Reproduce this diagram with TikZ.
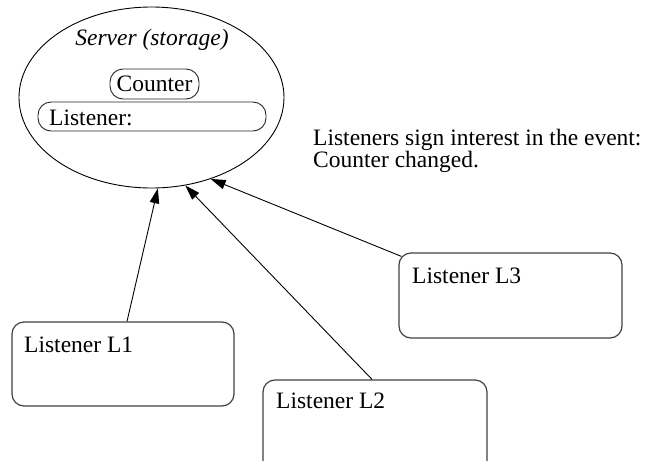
\documentclass[tikz,border=0pt]{standalone}
\usepackage{fontspec}
\setmainfont{Liberation Serif}
\usetikzlibrary{arrows.meta,shapes.geometric}

\begin{document}
\begin{tikzpicture}[x=1pt,y=-1pt,
  txt/.style={font=\fontsize{23.5}{22}\selectfont,inner sep=0pt},
  pill/.style={draw=black!85,line width=0.9pt,rounded corners=13pt,inner sep=0pt},
  listenerbox/.style={draw=black!75,line width=1.2pt,rounded corners=12pt,inner sep=0pt},
  signal/.style={line width=0.9pt,-{Triangle[length=15pt,width=9.5pt]}}]

\useasboundingbox (0,0) rectangle (646,461);

% server with its stored items
\node[draw,ellipse,line width=0.9pt,minimum width=265pt,minimum height=181pt,inner sep=0pt]
  (server) at (151.5,97.5) {};
\node[txt,anchor=base,font=\fontsize{23.5}{22}\selectfont\itshape] (servertitle) at (152,45) {Server (storage)};
\node[txt,pill,minimum width=89pt,minimum height=30pt] (counter) at (154.5,84) {Counter};
\node[pill,minimum width=228pt,minimum height=29pt] (listenerslot) at (152,116.5) {};
\node[txt,anchor=base west] (listenerlabel) at (49,125) {Listener:};

% note
\node[txt,anchor=north west,align=left] (note) at (313,129)
  {Listeners sign interest in the event:\\Counter changed.};

% listeners
\node[listenerbox,minimum width=222pt,minimum height=84pt] (l1) at (123,364) {};
\node[listenerbox,minimum width=224pt,minimum height=100pt] (l2) at (375,430) {};
\node[listenerbox,minimum width=223pt,minimum height=85pt] (l3) at (510.5,295.5) {};
\node[txt,anchor=base west] (l1text) at (24,352) {Listener L1};
\node[txt,anchor=base west] (l2text) at (276,408) {Listener L2};
\node[txt,anchor=base west] (l3text) at (412,283) {Listener L3};

% subscriptions
\draw[signal] ([xshift=4pt]l1.north) -- (server.-86.6);
\draw[signal] ([xshift=-3pt]l2.north) -- (server.-69);
\draw[signal] ([shift={(3pt,-4pt)}]l3.north west) -- (server.-54.3);
\end{tikzpicture}
\end{document}
